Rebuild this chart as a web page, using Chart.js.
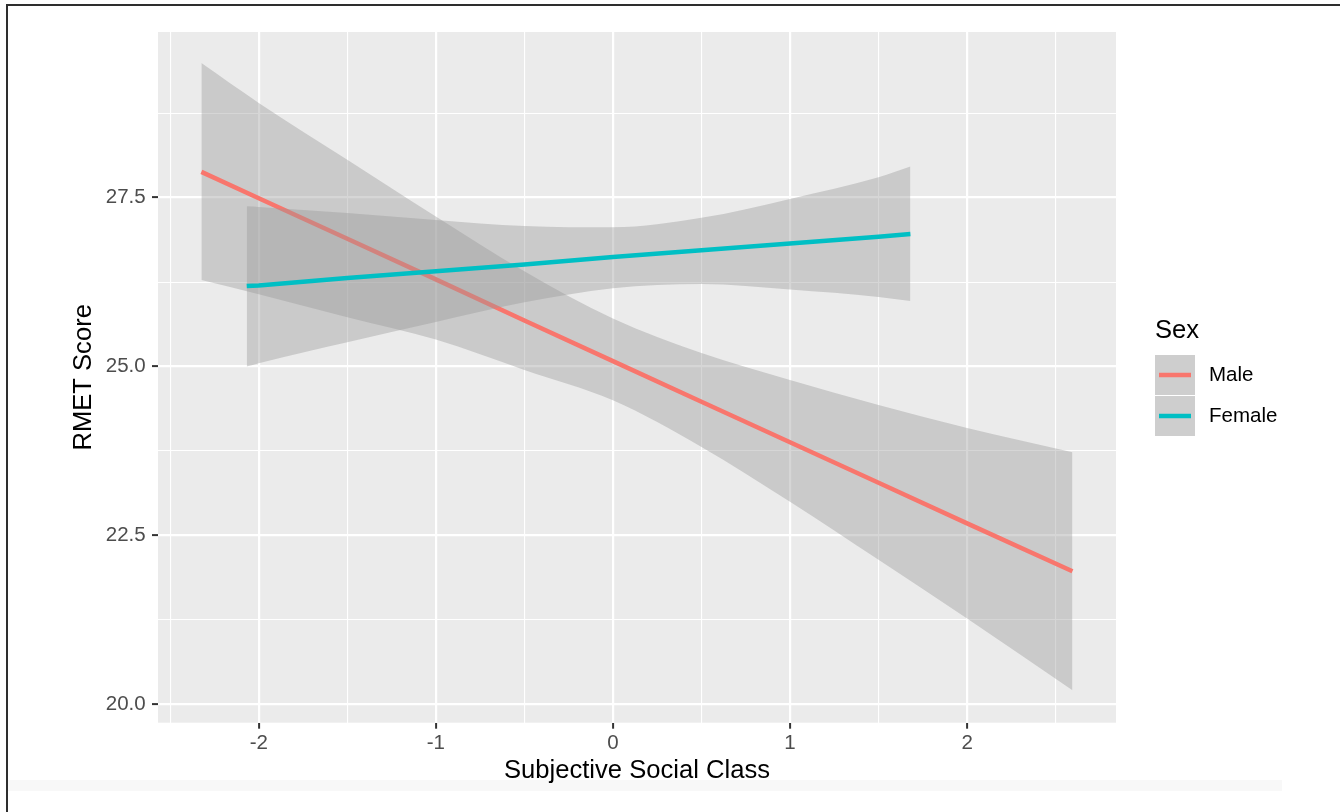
<!DOCTYPE html>
<html>
<head>
<meta charset="utf-8">
<title>RMET Score by Subjective Social Class</title>
<script src="https://cdn.jsdelivr.net/npm/chart.js@4.4.1/dist/chart.umd.min.js"></script>
<style>
  html, body { margin: 0; padding: 0; background: #ffffff; width: 1340px; height: 812px; overflow: hidden; }
  #wrap { position: relative; width: 1340px; height: 812px; }
  #frame { position: absolute; left: 6px; top: 4px; right: -10px; bottom: -10px;
           border-left: 2px solid #2e2e2e; border-top: 2px solid #2e2e2e; pointer-events: none; }
  #strip { position: absolute; left: 8px; top: 780px; width: 1274px; height: 11px; background: #f8f8f8; }
  canvas { position: absolute; left: 0; top: 0; }
</style>
</head>
<body>
<div id="wrap">
  <div id="strip"></div>
  <canvas id="chart" width="1340" height="812"></canvas>
  <div id="frame"></div>
</div>
<script>
// Axis ticks
const xMajorTicks = [-2, -1, 0, 1, 2];
const xTickLabels = ['-2', '-1', '0', '1', '2'];
const xMinorTicks = [-2.5, -1.5, -0.5, 0.5, 1.5, 2.5];
const yMajorTicks = [20, 22.5, 25, 27.5];
const yTickLabels = ['20.0', '22.5', '25.0', '27.5'];
const yMinorTicks = [21.25, 23.75, 26.25, 28.75];

// Groups
const seriesNames = ['Male', 'Female'];
const seriesColors = ['#F8766D', '#00BFC4'];

// Male: fitted line and 95% confidence band
const maleX     = [-2.324, -2.0, -1.5, -1.0, -0.5, 0.0, 0.5, 1.0, 1.5, 2.0, 2.595];
const maleFit   = [27.88, 27.49, 26.89, 26.29, 25.68, 25.08, 24.48, 23.88, 23.28, 22.68, 21.97];
const maleUpper = [29.49, 28.90, 28.06, 27.22, 26.41, 25.71, 25.20, 24.80, 24.43, 24.09, 23.73];
const maleLower = [26.28, 26.07, 25.73, 25.40, 24.95, 24.50, 23.81, 23.00, 22.14, 21.27, 20.21];

// Female: fitted line and 95% confidence band
const femaleX     = [-2.068, -2.0, -1.5, -1.0, -0.5, 0.0, 0.5, 1.0, 1.5, 1.68];
const femaleFit   = [26.19, 26.20, 26.31, 26.41, 26.51, 26.62, 26.72, 26.82, 26.92, 26.96];
const femaleUpper = [27.37, 27.36, 27.27, 27.17, 27.08, 27.06, 27.20, 27.48, 27.80, 27.96];
const femaleLower = [25.00, 25.05, 25.36, 25.66, 25.95, 26.16, 26.22, 26.14, 26.03, 25.97];

const FONT = '"Liberation Sans", Arial, Helvetica, sans-serif';
const BAND = 'rgba(153,153,153,0.4)';
const LINE_W = 4.5;

const pts = (xs, ys) => xs.map((x, i) => ({ x: x, y: ys[i] }));

function bandUpper(xs, ys, order) {
  return { data: pts(xs, ys), fill: '+1', backgroundColor: BAND, borderColor: 'rgba(0,0,0,0)',
           borderWidth: 0, pointRadius: 0, cubicInterpolationMode: 'monotone', order: order };
}
function bandLower(xs, ys, order) {
  return { data: pts(xs, ys), fill: false, borderColor: 'rgba(0,0,0,0)',
           borderWidth: 0, pointRadius: 0, cubicInterpolationMode: 'monotone', order: order };
}
function fitLine(xs, ys, color, order) {
  return { data: pts(xs, ys), fill: false, borderColor: color, borderWidth: LINE_W,
           pointRadius: 0, borderCapStyle: 'butt', order: order };
}

const xAllTicks = xMinorTicks.concat(xMajorTicks).sort((a, b) => a - b);
const yAllTicks = yMinorTicks.concat(yMajorTicks).sort((a, b) => a - b);
const isMajor = (list, c) => !!(c && c.tick && list.indexOf(c.tick.value) >= 0);

// Grey panel behind the grid
const panelPlugin = {
  id: 'panel',
  beforeDraw(chart) {
    const { ctx, chartArea: a } = chart;
    ctx.save();
    ctx.fillStyle = '#EBEBEB';
    ctx.fillRect(a.left, a.top, a.right - a.left, a.bottom - a.top);
    ctx.restore();
  }
};

// Legend with band-filled keys
const legendPlugin = {
  id: 'sexLegend',
  afterDraw(chart) {
    const ctx = chart.ctx;
    const left = 1155, firstTop = 355, key = 40, step = 41;
    ctx.save();
    ctx.textAlign = 'left';
    ctx.textBaseline = 'middle';
    ctx.fillStyle = '#000000';
    ctx.font = '25.6px ' + FONT;
    ctx.fillText('Sex', left, 331);
    seriesNames.forEach((name, i) => {
      const top = firstTop + i * step;
      ctx.fillStyle = '#F2F2F2';
      ctx.fillRect(left, top, key, key);
      ctx.fillStyle = BAND;
      ctx.fillRect(left, top, key, key);
      ctx.strokeStyle = seriesColors[i];
      ctx.lineWidth = LINE_W;
      ctx.lineCap = 'butt';
      ctx.beginPath();
      ctx.moveTo(left + 4, top + key / 2);
      ctx.lineTo(left + key - 4, top + key / 2);
      ctx.stroke();
      ctx.fillStyle = '#000000';
      ctx.font = '20.5px ' + FONT;
      ctx.fillText(name, 1209, top + key / 2);
    });
    ctx.restore();
  }
};

new Chart(document.getElementById('chart'), {
  type: 'line',
  data: {
    datasets: [
      bandUpper(maleX, maleUpper, 3),
      bandLower(maleX, maleLower, 3),
      fitLine(maleX, maleFit, seriesColors[0], 2),
      bandUpper(femaleX, femaleUpper, 1),
      bandLower(femaleX, femaleLower, 1),
      fitLine(femaleX, femaleFit, seriesColors[1], 0)
    ]
  },
  options: {
    responsive: false,
    animation: false,
    devicePixelRatio: 1,
    layout: { padding: { top: 32, right: 224, bottom: 0, left: 0 } },
    plugins: { legend: { display: false }, tooltip: { enabled: false } },
    elements: { line: { tension: 0 } },
    scales: {
      x: {
        type: 'linear',
        min: -2.569,
        max: 2.841,
        afterBuildTicks: s => { s.ticks = xAllTicks.map(v => ({ value: v })); },
        afterFit: s => { s.height = 89.3; },
        border: { display: false },
        grid: {
          color: '#FFFFFF',
          lineWidth: c => isMajor(xMajorTicks, c) ? 2.2 : 1.1,
          drawTicks: true,
          tickLength: 6,
          tickWidth: 2,
          tickColor: c => isMajor(xMajorTicks, c) ? '#333333' : 'rgba(0,0,0,0)'
        },
        ticks: {
          autoSkip: false,
          maxRotation: 0,
          padding: 2,
          color: '#4D4D4D',
          font: { family: FONT, size: 20.5 },
          callback: v => { const i = xMajorTicks.indexOf(v); return i >= 0 ? xTickLabels[i] : ''; }
        },
        title: {
          display: true,
          text: 'Subjective Social Class',
          color: '#000000',
          font: { family: FONT, size: 25.6 },
          padding: { top: 0, bottom: 25.6 }
        }
      },
      y: {
        type: 'linear',
        min: 19.73,
        max: 29.95,
        afterBuildTicks: s => { s.ticks = yAllTicks.map(v => ({ value: v })); },
        afterFit: s => { s.width = 158; },
        border: { display: false },
        grid: {
          color: '#FFFFFF',
          lineWidth: c => isMajor(yMajorTicks, c) ? 2.2 : 1.1,
          drawTicks: true,
          tickLength: 6,
          tickWidth: 2,
          tickColor: c => isMajor(yMajorTicks, c) ? '#333333' : 'rgba(0,0,0,0)'
        },
        ticks: {
          autoSkip: false,
          padding: 6.3,
          color: '#4D4D4D',
          font: { family: FONT, size: 20.5 },
          callback: v => { const i = yMajorTicks.indexOf(v); return i >= 0 ? yTickLabels[i] : ''; }
        },
        title: {
          display: true,
          text: 'RMET Score',
          color: '#000000',
          font: { family: FONT, size: 25.6 },
          padding: { top: 69, bottom: 0 }
        }
      }
    }
  },
  plugins: [panelPlugin, legendPlugin]
});
</script>
</body>
</html>
